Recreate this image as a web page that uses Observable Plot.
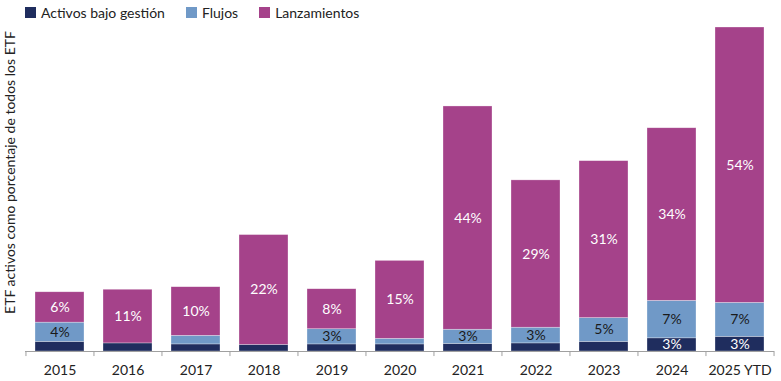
<!DOCTYPE html>
<html>
<head>
<meta charset="utf-8">
<script src="https://cdn.jsdelivr.net/npm/d3@7"></script>
<script src="https://cdn.jsdelivr.net/npm/@observablehq/plot@0.6"></script>
<style>
  html, body { margin: 0; padding: 0; background: #fff; }
  body { width: 781px; height: 381px; overflow: hidden; position: relative; font-family: Lato, "Noto Sans", sans-serif; }
  #legend { position: absolute; left: 0; top: 0; height: 25px; display: flex; align-items: center; padding-left: 25px; font-size: 14px; color: #222; z-index: 2; }
  #legend .item { display: flex; align-items: center; margin-right: 21px; }
  #legend .sw { width: 11px; height: 11px; margin-right: 5px; }
  svg { display: block; }
</style>
</head>
<body>
<div id="legend"></div>
<div id="chart"></div>
<script>
const years = ["2015","2016","2017","2018","2019","2020","2021","2022","2023","2024","2025 YTD"];
const seriesNames = ["Activos bajo gestión", "Flujos", "Lanzamientos"];
const seriesColors = ["#1f2d5e", "#7099c7", "#a5428a"];

const activos      = [1.9, 1.6, 1.4, 1.3, 1.4, 1.4, 1.5, 1.6, 1.9, 2.6, 2.9];
const flujos       = [3.8, 0.0, 1.7, 0.0, 3.0, 1.1, 2.8, 3.1, 4.7, 7.4, 6.7];
const lanzamientos = [6.0, 10.6, 9.6, 21.7, 7.9, 15.4, 44.1, 29.1, 31.0, 34.1, 54.4];

const activosLabels = ["", "", "", "", "", "", "", "", "", "3%", "3%"];
const flujosLabels  = ["4%", "", "", "", "3%", "", "3%", "3%", "5%", "7%", "7%"];
const lanzLabels    = ["6%", "11%", "10%", "22%", "8%", "15%", "44%", "29%", "31%", "34%", "54%"];

const yLabel = "ETF activos como porcentaje de todos los ETF";

const valuesBySeries = [activos, flujos, lanzamientos];
const labelsBySeries = [activosLabels, flujosLabels, lanzLabels];
const data = [];
seriesNames.forEach((s, si) => {
  years.forEach((y, i) => {
    data.push({year: y, series: s, value: valuesBySeries[si][i], label: labelsBySeries[si][i]});
  });
});

// legend
const legend = document.getElementById("legend");
seriesNames.forEach((s, i) => {
  const it = document.createElement("div");
  it.className = "item";
  it.innerHTML = `<span class="sw" style="background:${seriesColors[i]}"></span><span>${s}</span>`;
  legend.appendChild(it);
});

const W = 781, H = 381, mL = 25, mR = 7, mT = 27, mB = 30;
const step = (W - mL - mR) / years.length;

const stackOpts = {x: "year", y: "value", z: "series", order: seriesNames};

const chart = Plot.plot({
  width: W,
  height: H,
  marginLeft: mL,
  marginRight: mR,
  marginTop: mT,
  marginBottom: mB,
  style: {fontFamily: "Lato, 'Noto Sans', sans-serif", fontSize: "14px", color: "#222", background: "white"},
  x: {domain: years, paddingInner: 0.28, paddingOuter: 0.14, label: null, tickSize: 0, tickPadding: 14},
  y: {domain: [0, 64], axis: null},
  color: {domain: seriesNames, range: seriesColors},
  marks: [
    Plot.barY(data, Plot.stackY({...stackOpts, fill: "series", stroke: "white", strokeWidth: 0.6, strokeOpacity: 0.5})),
    Plot.text(data, Plot.stackY({...stackOpts, text: d => (d.series !== "Flujos" && d.label) ? d.label : null, fill: "white", fontSize: 14})),
    Plot.text(data, Plot.stackY({...stackOpts, text: d => (d.series === "Flujos" && d.label) ? d.label : null, fill: "#1a1a1a", fontSize: 14})),
    Plot.ruleY([0], {stroke: "#a0a0a0", strokeWidth: 1}),
    Plot.ruleX(years, {x: d => d, dx: -step / 2, y1: 0, y2: -1, stroke: "#a0a0a0"}),
    Plot.ruleX([years[years.length - 1]], {x: d => d, dx: step / 2, y1: 0, y2: -1, stroke: "#a0a0a0"}),
    Plot.text([yLabel], {text: d => d, frameAnchor: "left", textAnchor: "middle", rotate: -90, dx: -15, dy: -17, fontSize: 14, fill: "#222"})
  ]
});
document.getElementById("chart").appendChild(chart);
</script>
</body>
</html>
